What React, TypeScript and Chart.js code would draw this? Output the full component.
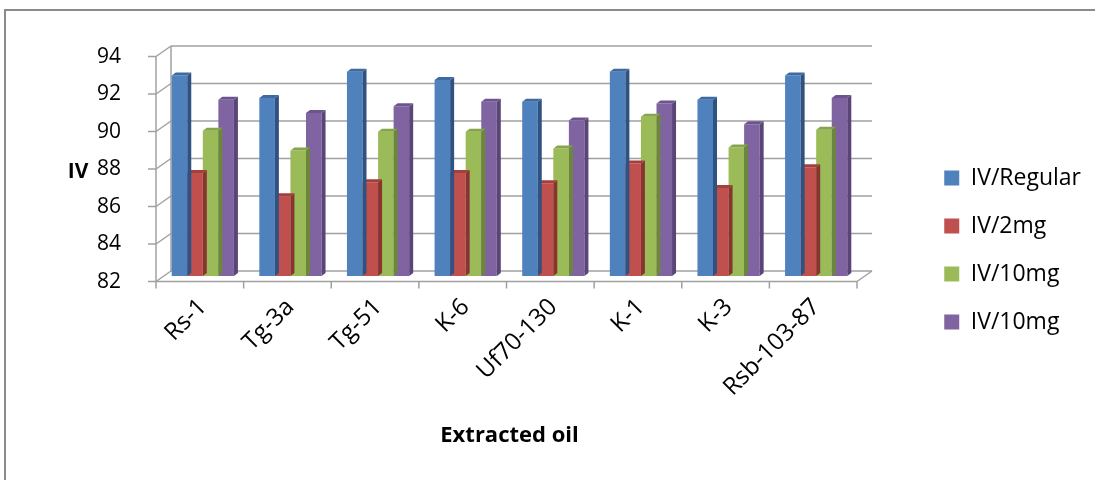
import React, { useEffect, useRef } from "react";
import { Chart, registerables } from "chart.js";

Chart.register(...registerables);

const categories = ["Rs-1", "Tg-3a", "Tg-51", "K-6", "Uf70-130", "K-1", "K-3", "Rsb-103-87"];
const ivRegular = [92.7, 91.5, 92.9, 92.45, 91.3, 92.9, 91.4, 92.7];
const iv2mg = [87.5, 86.25, 87.0, 87.5, 86.95, 88.0, 86.7, 87.8];
const iv10mgA = [89.75, 88.7, 89.7, 89.7, 88.8, 90.5, 88.85, 89.8];
const iv10mgB = [91.4, 90.7, 91.05, 91.3, 90.3, 91.2, 90.1, 91.5];
const seriesLabels = ["IV/Regular", "IV/2mg", "IV/10mg", "IV/10mg"];
const yTicks = [82, 84, 86, 88, 90, 92, 94];

const frontColors = ["#4F81BD", "#C0504D", "#9BBB59", "#8064A2"];
const sideColors = ["#2f5282", "#8a3432", "#6c873a", "#594577"];
const topColors = ["#3d6aa3", "#a33f3c", "#86a54a", "#6d5491"];

const FONT = "'Open Sans', 'DejaVu Sans', sans-serif";
const DX = 4;
const DY = 3;

const bar3d = {
  id: "bar3d",
  afterDatasetDraw(chart: any, args: any) {
    const meta = chart.getDatasetMeta(args.index);
    const ctx = chart.ctx;
    const bottom = chart.chartArea.bottom;
    meta.data.forEach((bar: any) => {
      const p = bar.getProps(["x", "y", "base", "width"], true);
      const x = p.x, y = p.y, width = p.width;
      const base = Math.min(p.base, bottom);
      const l = x - width / 2;
      const r = x + width / 2;
      ctx.save();
      ctx.fillStyle = sideColors[args.index];
      ctx.beginPath();
      ctx.moveTo(r, y);
      ctx.lineTo(r + DX, y - DY);
      ctx.lineTo(r + DX, base - DY);
      ctx.lineTo(r, base);
      ctx.closePath();
      ctx.fill();
      ctx.fillStyle = topColors[args.index];
      ctx.beginPath();
      ctx.moveTo(l, y);
      ctx.lineTo(l + DX, y - DY);
      ctx.lineTo(r + DX, y - DY);
      ctx.lineTo(r, y);
      ctx.closePath();
      ctx.fill();
      ctx.restore();
    });
  },
};

const walls = {
  id: "walls",
  beforeDatasetsDraw(chart: any) {
    const { ctx, chartArea, scales } = chart;
    const ys = scales.y;
    const L = chartArea.left;
    const R = chartArea.right;
    const fL = L - 3, fR = R - 3, bL = L + 12, bR = R + 12;
    const fo = 5.5, bo = -5;
    const line = (x1: number, y1: number, x2: number, y2: number) => {
      ctx.beginPath();
      ctx.moveTo(x1, y1);
      ctx.lineTo(x2, y2);
      ctx.stroke();
    };
    ctx.save();
    ctx.strokeStyle = "#a0a0a0";
    ctx.lineWidth = 1.5;
    yTicks.forEach((v) => {
      const y = ys.getPixelForValue(v);
      line(bL, y + bo, bR, y + bo);
      line(fL, y + fo, bL, y + bo);
      line(fL - 8, y + fo, fL, y + fo);
    });
    const yTop = ys.getPixelForValue(yTicks[yTicks.length - 1]);
    const yBot = ys.getPixelForValue(yTicks[0]);
    line(fL, yTop + fo, fL, yBot + fo);
    line(bL, yTop + bo, bL, yBot + bo);
    line(fL, yBot + fo, fR, yBot + fo);
    line(fR, yBot + fo, bR, yBot + bo);
    const n = categories.length;
    for (let i = 0; i <= n; i++) {
      const x = L + (i * (R - L)) / n - 3;
      line(x, yBot + fo, x, yBot + fo + 7);
    }
    ctx.restore();
  },
  afterDraw(chart: any) {
    const ctx = chart.ctx;
    ctx.save();
    ctx.fillStyle = "#000";
    ctx.font = `bold 21px ${FONT}`;
    ctx.textAlign = "center";
    ctx.textBaseline = "middle";
    ctx.fillText("IV", 78, 172);
    ctx.restore();
  },
};

export default function App() {
  const ref = useRef<HTMLCanvasElement | null>(null);
  useEffect(() => {
    document.body.style.margin = "0";
    document.body.style.overflow = "hidden";
    if (!ref.current) return;
    const chart = new Chart(ref.current, {
      type: "bar",
      data: {
        labels: categories,
        datasets: [ivRegular, iv2mg, iv10mgA, iv10mgB].map((d, i) => ({
          label: seriesLabels[i],
          data: d,
          backgroundColor: frontColors[i],
          borderWidth: 0,
          categoryPercentage: 0.71,
          barPercentage: 1.0,
        })),
      },
      options: {
        animation: false,
        responsive: false,
        devicePixelRatio: 1,
        layout: { padding: { top: 51, bottom: 31, left: 0, right: 4 } },
        plugins: {
          tooltip: { enabled: false },
          legend: {
            position: "right",
            align: "center",
            labels: {
              font: { family: FONT, size: 23 },
              color: "#000",
              boxWidth: 15,
              boxHeight: 15,
              padding: 25,
            },
          },
        },
        scales: {
          x: {
            grid: { display: false, drawTicks: false },
            border: { display: false },
            ticks: {
              autoSkip: false,
              maxRotation: 45,
              minRotation: 45,
              padding: 17,
              color: "#000",
              font: { family: FONT, size: 24 },
            },
            title: {
              display: true,
              text: "Extracted oil",
              color: "#000",
              font: { family: FONT, size: 22, weight: "bold" },
              padding: { top: 0, bottom: 0 },
            },
            afterFit: (s: any) => {
              s.height = 173;
            },
          },
          y: {
            min: 82,
            max: 94,
            grid: { display: false, drawTicks: false },
            border: { display: false },
            ticks: {
              stepSize: 2,
              padding: 38,
              labelOffset: 6,
              color: "#000",
              font: { family: FONT, size: 21 },
            },
            afterFit: (s: any) => {
              s.width = 159;
            },
          },
          yr: {
            position: "right",
            display: true,
            grid: { display: false, drawTicks: false },
            border: { display: false },
            ticks: { display: false },
            afterFit: (s: any) => {
              const lw = s.chart.legend ? s.chart.legend.width : 0;
              s.width = Math.max(0, 1095 - 4 - 860 - lw);
            },
          },
        },
      },
      plugins: [walls, bar3d],
    });
    return () => chart.destroy();
  }, []);
  return (
    <div style={{ position: "relative", width: 1095, height: 480, overflow: "hidden", background: "#fff" }}>
      <canvas ref={ref} width={1095} height={480} style={{ position: "absolute", left: 0, top: 0, width: 1095, height: 480 }} />
      <div
        style={{
          position: "absolute",
          left: 4,
          top: 9,
          width: 1200,
          height: 700,
          borderLeft: "2px solid #8a8a8a",
          borderTop: "2px solid #8a8a8a",
          pointerEvents: "none",
        }}
      />
    </div>
  );
}
